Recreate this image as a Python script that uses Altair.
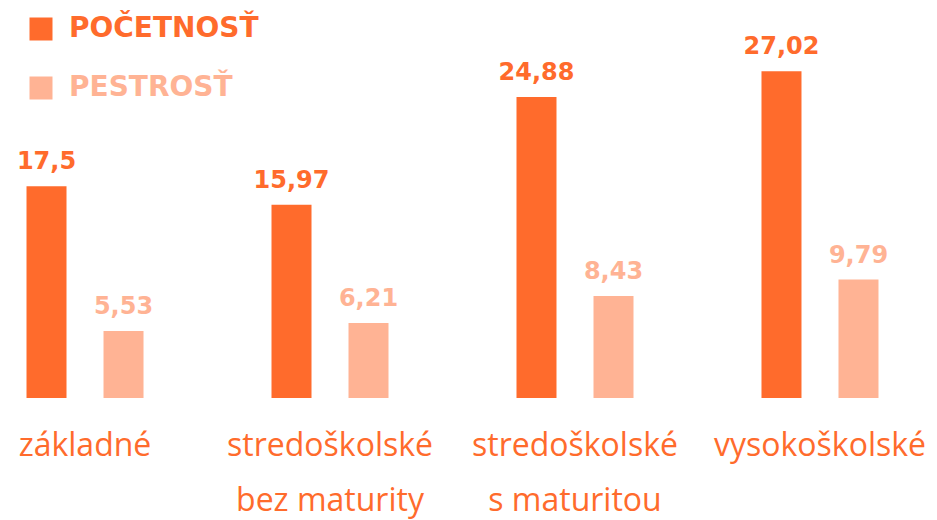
import altair as alt
import pandas as pd

categories = ["základné", "stredoškolské\nbez maturity", "stredoškolské\ns maturitou", "vysokoškolské"]
series = ["POČETNOSŤ", "PESTROSŤ"]
pocetnost = [17.5, 15.97, 24.88, 27.02]
pestrost = [5.53, 6.21, 8.43, 9.79]
colors = ["#FF6B2C", "#FFB394"]

rows = []
for c, a, b in zip(categories, pocetnost, pestrost):
    rows.append({"cat": c, "series": series[0], "value": a})
    rows.append({"cat": c, "series": series[1], "value": b})
df = pd.DataFrame(rows)
df["label"] = df["value"].map(lambda v: f"{v:g}".replace(".", ","))

FONT = "Open Sans"
BOLD = "DejaVu Sans"

x = alt.X("cat:N", sort=categories, title=None,
          scale=alt.Scale(paddingInner=0.306, paddingOuter=0),
          axis=alt.Axis(domain=False, ticks=False, labelAngle=0,
                        labelExpr="split(datum.label, '\\n')",
                        labelFont=FONT, labelFontSize=32, labelColor="#FF6B2C",
                        labelLineHeight=55, labelPadding=57, labelBaseline="alphabetic",
                        labelLimit=400))
xo = alt.XOffset("series:N", sort=series, scale=alt.Scale(paddingInner=0.48, paddingOuter=0.344))
y = alt.Y("value:Q", scale=alt.Scale(domain=[0, 32.9]), axis=None)
color = alt.Color("series:N", sort=series,
                  scale=alt.Scale(domain=series, range=colors),
                  legend=alt.Legend(title=None, orient="none", legendX=27, legendY=15,
                                    symbolType="square", symbolSize=529, symbolStrokeWidth=0,
                                    labelFont=BOLD, labelFontSize=28, labelFontWeight="bold",
                                    labelOffset=14, rowPadding=31, labelLimit=400,
                                    labelColor={"expr": f"datum.value == '{series[0]}' ? '{colors[0]}' : '{colors[1]}'"}))

bars = alt.Chart(df).mark_bar(size=40).encode(x=x, xOffset=xo, y=y, color=color)
text = alt.Chart(df).mark_text(font=BOLD, fontSize=24, fontWeight="bold", baseline="alphabetic", dy=-17).encode(
    x=x, xOffset=xo, y=y, text="label:N",
    color=alt.Color("series:N", sort=series, scale=alt.Scale(domain=series, range=colors), legend=None))

chart = (bars + text).properties(
    width=905, height=398,
    autosize=alt.AutoSizeParams(type="none"),
    padding={"left": 0, "top": 0, "right": 32, "bottom": 122},
).configure_view(stroke=None)

chart.save("out.html", embed_options={"renderer": "svg", "actions": False})
